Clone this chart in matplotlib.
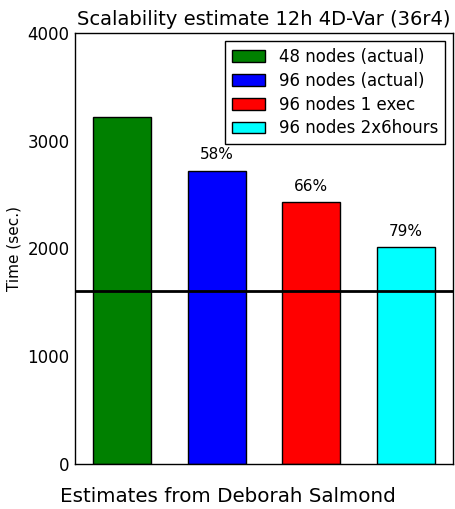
import matplotlib
matplotlib.use('Agg')
import matplotlib.pyplot as plt

labels = ['48 nodes (actual)', '96 nodes (actual)', '96 nodes 1 exec', '96 nodes 2x6hours']
times = [3220, 2720, 2430, 2010]
colors = ['green', 'blue', 'red', 'cyan']
pct = ['', '58%', '66%', '79%']
target = 1605

fig = plt.figure(figsize=(4.56, 5.09), dpi=100)
ax = fig.add_axes([0.1645, 0.0884, 0.829, 0.8468])

for i in range(len(times)):
    ax.bar(i, times[i], width=0.61, color=colors[i], edgecolor='black',
           linewidth=1, label=labels[i])
    if pct[i]:
        ax.text(i, times[i] + 80, pct[i], ha='center', va='bottom', fontsize=11)

ax.axhline(target, color='black', linewidth=2)

ax.set_xlim(-0.5, 3.5)
ax.set_ylim(0, 4000)
ax.set_yticks([0, 1000, 2000, 3000, 4000])
ax.set_xticks([])
ax.tick_params(axis='y', length=0, labelsize=12, pad=4)
ax.set_ylabel('Time (sec.)', fontsize=11)
ax.set_title('Scalability estimate 12h 4D-Var (36r4)', fontsize=14)
for s in ax.spines.values():
    s.set_linewidth(1)

leg = ax.legend(loc='upper right', fontsize=12, fancybox=False, framealpha=1,
                edgecolor='black', handlelength=2, borderpad=0.4, labelspacing=0.35)
leg.get_frame().set_linewidth(1)

fig.text(0.5, 0.014, 'Estimates from Deborah Salmond', ha='center', fontsize=14.3)

fig.savefig('out.png', dpi=100)
